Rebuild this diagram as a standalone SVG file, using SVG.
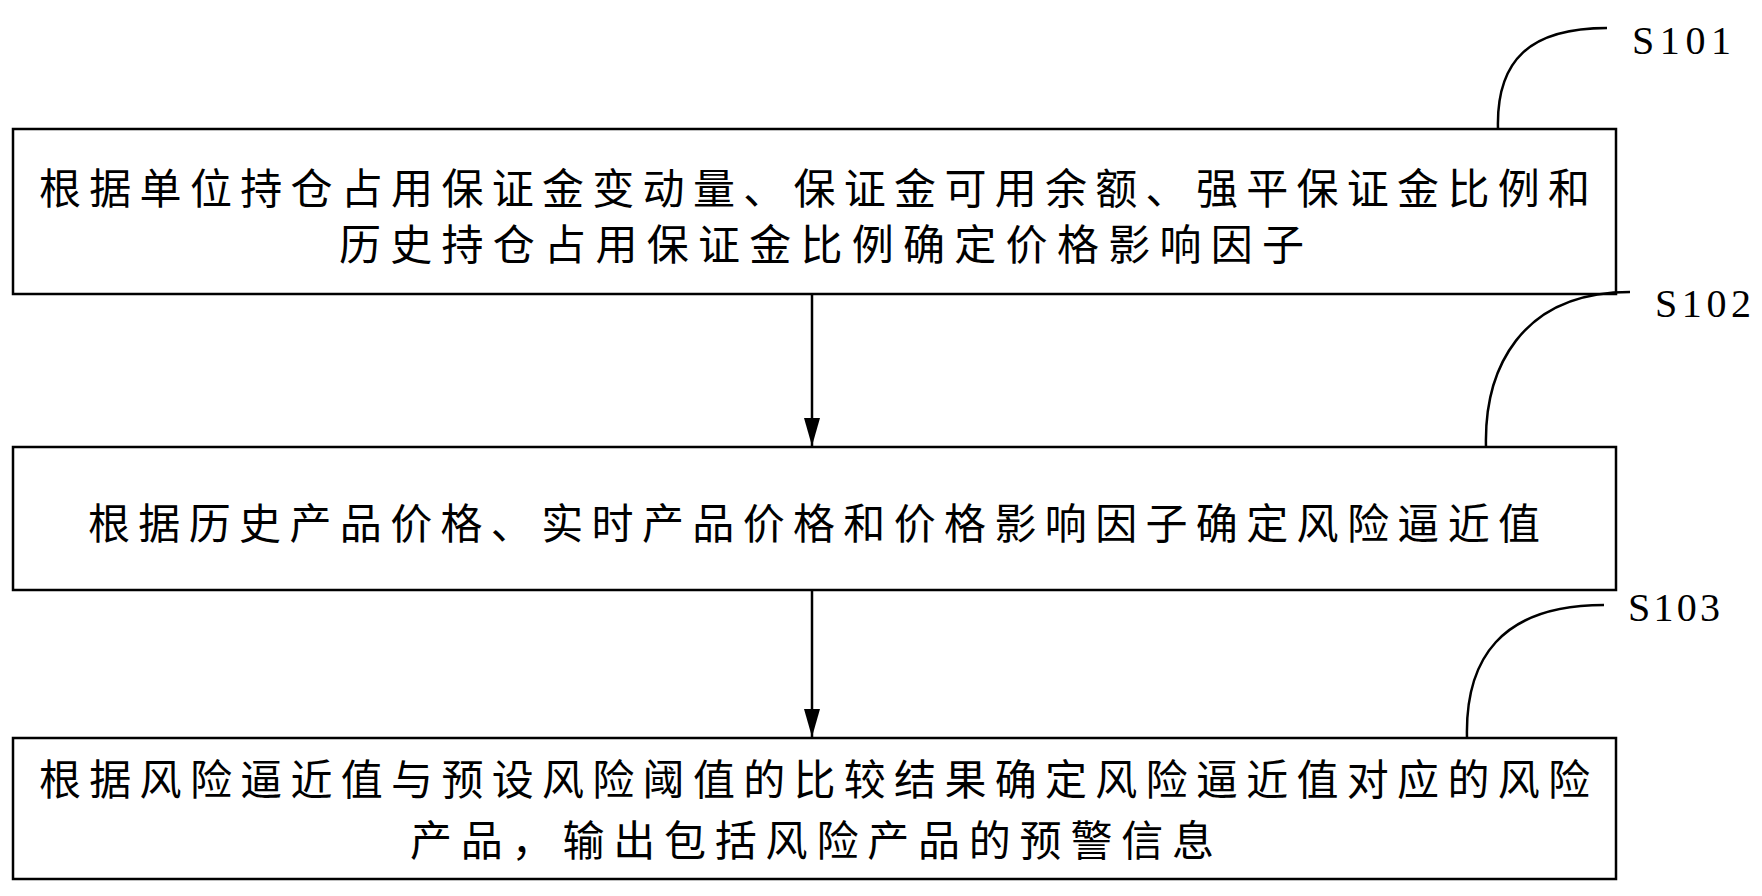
<svg xmlns="http://www.w3.org/2000/svg" width="1762" height="896" viewBox="0 0 1762 896">
<style>
.box{fill:#fff;stroke:#000;stroke-width:2.5}
.t{font-family:"Noto Sans CJK SC",sans-serif;font-size:42px;fill:#000;dominant-baseline:central}
.s{font-family:"Liberation Serif",serif;font-size:40px;fill:#000;dominant-baseline:central}
.c{fill:none;stroke:#000;stroke-width:2.5}
</style>
<defs><marker id="a" markerWidth="28" markerHeight="16" refX="28" refY="8" orient="auto" markerUnits="userSpaceOnUse" viewBox="0 0 28 16"><path d="M0,0 L28,8 L0,16 Z" fill="#000"/></marker></defs>
<rect width="1762" height="896" fill="#fff"/>
<g id="S101">
<rect class="box" x="13" y="129" width="1603" height="165"/>
<text class="t" x="39" y="185" textLength="1551">根据单位持仓占用保证金变动量、保证金可用余额、强平保证金比例和</text>
<text class="t" x="339" y="241" textLength="965">历史持仓占用保证金比例确定价格影响因子</text>
<path class="c" d="M1498,129 C1496,60 1530,28 1607,28"/>
<text class="s" x="1632" y="40" textLength="99">S101</text>
</g>
<g id="S102">
<rect class="box" x="13" y="447" width="1603" height="143"/>
<text class="t" x="88" y="520" textLength="1452">根据历史产品价格、实时产品价格和价格影响因子确定风险逼近值</text>
<path class="c" d="M1486,447 C1484,370 1520,292 1630,292"/>
<text class="s" x="1655" y="303" textLength="96">S102</text>
</g>
<g id="S103">
<rect class="box" x="13" y="738" width="1603" height="141"/>
<text class="t" x="39" y="776" textLength="1551">根据风险逼近值与预设风险阈值的比较结果确定风险逼近值对应的风险</text>
<text class="t" x="410" y="837" textLength="804">产品，输出包括风险产品的预警信息</text>
<path class="c" d="M1467,738 C1465,660 1500,605 1604,605"/>
<text class="s" x="1628" y="607" textLength="92">S103</text>
</g>
<g id="connectors">
<path class="c" d="M812,294 V446" marker-end="url(#a)"/>
<path class="c" d="M812,590 V737" marker-end="url(#a)"/>
</g>
</svg>
